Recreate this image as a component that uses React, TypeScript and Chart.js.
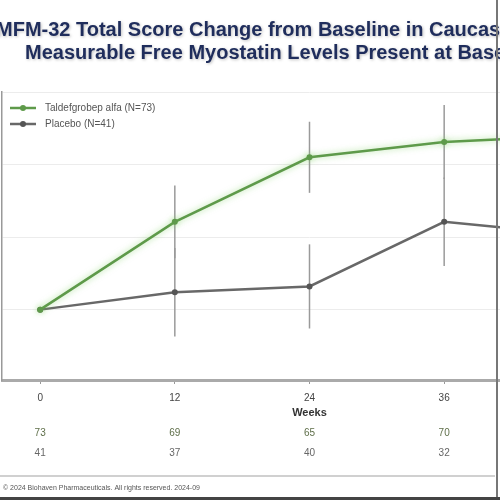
import React, { useEffect, useRef } from "react";
import { Chart, registerables } from "chart.js";

Chart.register(...registerables);

// ---- data ----
const weeks = [0, 12, 24, 36, 48];
const xTickValues = [0, 12, 24, 36, 48];
const taldefMean = [0, 1.21, 2.1, 2.31, 2.4];
const taldefErr = [0, 0.5, 0.49, 0.51, 0.5];
const placeboMean = [0, 0.24, 0.32, 1.21, 1.03];
const placeboErr = [0, 0.61, 0.58, 0.61, 0.6];
const taldefN = [73, 69, 65, 70];
const placeboN = [41, 37, 40, 32];
const seriesLabels = ["Taldefgrobep alfa (N=73)", "Placebo (N=41)"];
const titleLines = [
  "MFM-32 Total Score Change from Baseline in Caucasians with",
  "Measurable Free Myostatin Levels Present at Baseline",
];
const xAxisTitle = "Weeks";
const footerText = "© 2024 Biohaven Pharmaceuticals. All rights reserved. 2024-09";

const GREEN = "#5e9a4a";
const GRAY = "#686868";
const OFFSET = 100; // canvas is shifted left, slide is cropped
const CANVAS_W = 740;
const CANVAS_H = 500;

const errorBarPlugin = {
  id: "errorBars",
  beforeDatasetsDraw(chart: any) {
    const { ctx, scales } = chart;
    const xs = scales.x;
    const ys = scales.y;
    const sets = [
      { mean: taldefMean, err: taldefErr },
      { mean: placeboMean, err: placeboErr },
    ];
    ctx.save();
    ctx.strokeStyle = "#9a9a9a";
    ctx.lineWidth = 1.5;
    sets.forEach((s) => {
      weeks.forEach((w, i) => {
        if (!s.err[i]) return;
        const x = xs.getPixelForValue(w);
        const y1 = ys.getPixelForValue(s.mean[i] + s.err[i]);
        const y2 = ys.getPixelForValue(s.mean[i] - s.err[i]);
        ctx.beginPath();
        ctx.moveTo(x, y1);
        ctx.lineTo(x, y2);
        ctx.stroke();
      });
    });
    ctx.restore();
  },
};

const glowPlugin = {
  id: "glow",
  beforeDatasetDraw(chart: any, args: any) {
    if (args.index === 0) {
      chart.ctx.save();
      chart.ctx.shadowColor = "rgba(120,205,90,0.6)";
      chart.ctx.shadowBlur = 6;
    }
  },
  afterDatasetDraw(chart: any, args: any) {
    if (args.index === 0) chart.ctx.restore();
  },
};

const legendPlugin = {
  id: "insideLegend",
  afterDatasetsDraw(chart: any) {
    const { ctx } = chart;
    const left = chart.chartArea.left;
    ctx.save();
    chart.data.datasets.forEach((ds: any, i: number) => {
      const y = 108 + i * 16;
      ctx.strokeStyle = ds.borderColor;
      ctx.lineWidth = 2.5;
      ctx.beginPath();
      ctx.moveTo(left + 8, y);
      ctx.lineTo(left + 34, y);
      ctx.stroke();
      ctx.fillStyle = ds.backgroundColor;
      ctx.beginPath();
      ctx.arc(left + 21, y, 3, 0, Math.PI * 2);
      ctx.fill();
      ctx.font = "10px 'Liberation Sans', Arial, sans-serif";
      ctx.fillStyle = "#555";
      ctx.textAlign = "left";
      ctx.textBaseline = "middle";
      ctx.fillText(ds.label, left + 43, y);
    });
    ctx.restore();
  },
};

const decorPlugin = {
  id: "decor",
  afterDraw(chart: any) {
    const { ctx, scales } = chart;
    const xs = scales.x;
    ctx.save();
    // title
    ctx.font = "bold 20px 'Liberation Sans', Arial, sans-serif";
    ctx.fillStyle = "#1f2d5c";
    ctx.textBaseline = "middle";
    ctx.textAlign = "left";
    ctx.shadowColor = "rgba(0,0,0,0.25)";
    ctx.shadowBlur = 3;
    ctx.shadowOffsetX = 1;
    ctx.shadowOffsetY = 1;
    ctx.fillText(titleLines[0], OFFSET - 4, 30);
    ctx.fillText(titleLines[1], OFFSET + 25, 53);
    ctx.shadowColor = "transparent";
    ctx.shadowBlur = 0;
    ctx.shadowOffsetX = 0;
    ctx.shadowOffsetY = 0;

    // N at risk rows
    ctx.font = "10px 'Liberation Sans', Arial, sans-serif";
    ctx.textAlign = "center";
    taldefN.forEach((n, i) => {
      ctx.fillStyle = "#5f6f4a";
      ctx.fillText(String(n), xs.getPixelForValue(xTickValues[i]), 433);
    });
    placeboN.forEach((n, i) => {
      ctx.fillStyle = "#666";
      ctx.fillText(String(n), xs.getPixelForValue(xTickValues[i]), 453);
    });

    // footer
    ctx.strokeStyle = "#d0d0d0";
    ctx.lineWidth = 2;
    ctx.beginPath();
    ctx.moveTo(OFFSET, 476);
    ctx.lineTo(OFFSET + 495, 476);
    ctx.stroke();
    ctx.font = "7px 'Liberation Sans', Arial, sans-serif";
    ctx.textAlign = "left";
    ctx.fillStyle = "#555";
    ctx.fillText(footerText, OFFSET + 3, 488);

    // slide border (right & bottom)
    ctx.strokeStyle = "#777";
    ctx.lineWidth = 2;
    ctx.beginPath();
    ctx.moveTo(OFFSET + 497, 0);
    ctx.lineTo(OFFSET + 497, 500);
    ctx.stroke();
    ctx.strokeStyle = "#444";
    ctx.lineWidth = 3;
    ctx.beginPath();
    ctx.moveTo(OFFSET, 498.5);
    ctx.lineTo(OFFSET + 500, 498.5);
    ctx.stroke();
    ctx.restore();
  },
};

export default function App() {
  const ref = useRef<HTMLCanvasElement | null>(null);

  useEffect(() => {
    if (!ref.current) return;
    Chart.defaults.font.family = "'Liberation Sans', Arial, sans-serif";
    const chart = new Chart(ref.current, {
      type: "line",
      data: {
        datasets: [
          {
            label: seriesLabels[0],
            data: weeks.map((w, i) => ({ x: w, y: taldefMean[i] })),
            borderColor: GREEN,
            backgroundColor: GREEN,
            borderWidth: 2.5,
            pointRadius: 3,
            pointBorderWidth: 0,
            tension: 0,
          },
          {
            label: seriesLabels[1],
            data: weeks.map((w, i) => ({ x: w, y: placeboMean[i] })),
            borderColor: GRAY,
            backgroundColor: "#555",
            borderWidth: 2.5,
            pointRadius: 3,
            pointBorderWidth: 0,
            tension: 0,
          },
        ],
      },
      options: {
        responsive: false,
        animation: false,
        layout: { padding: { top: 92, right: 23, left: 0, bottom: 0 } },
        plugins: {
          tooltip: { enabled: false },
          legend: { display: false },
        },
        scales: {
          x: {
            type: "linear",
            min: -3.4,
            max: 51.4,
            afterBuildTicks: (s: any) => {
              s.ticks = xTickValues.map((v) => ({ value: v }));
            },
            afterFit: (s: any) => {
              s.height = 120;
            },
            grid: {
              display: true,
              drawOnChartArea: false,
              drawTicks: true,
              tickLength: 4,
              color: "#999",
              lineWidth: 1,
            },
            border: { display: true, color: "#aaa", width: 3 },
            ticks: {
              color: "#444",
              font: { size: 10 },
              padding: 8,
              callback: (v: any) => String(v),
            },
            title: {
              display: true,
              text: xAxisTitle,
              color: "#333",
              font: { size: 11, weight: "bold" },
              padding: { top: 0, bottom: 80 },
            },
          },
          y: {
            type: "linear",
            min: -0.97,
            max: 3,
            afterFit: (s: any) => {
              s.width = 102;
            },
            ticks: {
              stepSize: 1,
              includeBounds: false,
              color: "#444",
              font: { size: 10 },
              padding: 8,
            },
            grid: { color: "#ececec", lineWidth: 1, drawTicks: false },
            border: { display: true, color: "#999", width: 1.5 },
          },
        },
      } as any,
      plugins: [errorBarPlugin, glowPlugin, legendPlugin, decorPlugin],
    });
    return () => chart.destroy();
  }, []);

  return (
    <div
      style={{
        position: "fixed",
        left: 0,
        top: 0,
        width: 500,
        height: 500,
        overflow: "hidden",
        background: "#fff",
      }}
    >
      <canvas
        ref={ref}
        width={CANVAS_W}
        height={CANVAS_H}
        style={{ position: "absolute", left: -OFFSET, top: 0, width: CANVAS_W, height: CANVAS_H }}
      />
    </div>
  );
}
